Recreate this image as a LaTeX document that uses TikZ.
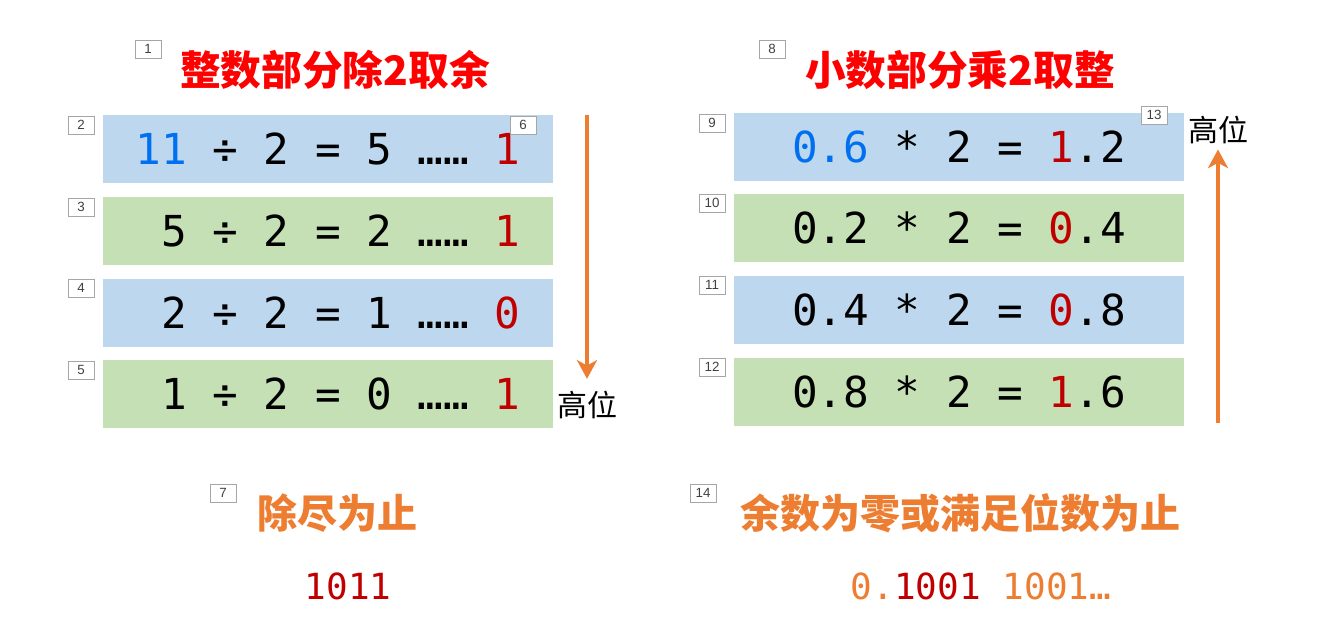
\documentclass[tikz,border=0pt]{standalone}
\usepackage{fontspec}
\usepackage{xcolor}
\usetikzlibrary{arrows.meta,positioning}
\setmainfont{Liberation Sans}
\newfontfamily\codefont{DejaVu Sans Mono}
\newfontfamily\cjkfont{Noto Sans CJK SC}
\newdimen\pix \pix=0.75pt

\definecolor{rowblue}{HTML}{BDD7EE}
\definecolor{rowgreen}{HTML}{C5E0B4}
\definecolor{digitred}{HTML}{C00000}
\definecolor{headred}{HTML}{FF0000}
\definecolor{accent}{HTML}{ED7D31}
\definecolor{startblue}{HTML}{0070F0}
\definecolor{tagline}{HTML}{A6A6A6}
\definecolor{tagtext}{HTML}{404040}

\begin{document}
\begin{tikzpicture}[
  x=0.75pt, y=-0.75pt,
  qrow/.style={minimum width=450\pix, minimum height=68\pix, inner sep=0pt,
    font=\codefont\fontsize{32pt}{36pt}\selectfont},
  tag/.style={draw=tagline, fill=white, minimum width=26\pix, minimum height=18\pix,
    inner sep=0pt, text=tagtext, font=\fontsize{10pt}{11pt}\selectfont},
  heading/.style={text=headred, font=\cjkfont\bfseries\fontsize{30.5pt}{34pt}\selectfont},
  endnote/.style={text=accent, font=\cjkfont\bfseries\fontsize{30pt}{34pt}\selectfont},
  hilabel/.style={inner sep=1pt, font=\cjkfont\fontsize{22.5pt}{26pt}\selectfont},
  result/.style={font=\codefont\fontsize{27pt}{30pt}\selectfont},
  flow/.style={-{Stealth[length=14pt, width=15pt, inset=4pt]}, line width=3pt, draw=accent}
]
\useasboundingbox (0,0) rectangle (1330,635);

% Integer part
\node[heading] (headL) at (335,70) {整数部分除2取余};

\node[qrow, fill=rowblue] (divA) at (328,149)
  {{\color{startblue}11} ÷ 2 = 5 …… {\color{digitred}1}};
\node[qrow, fill=rowgreen] (divB) at (328,231)
  {\hphantom{0}5 ÷ 2 = 2 …… {\color{digitred}1}};
\node[qrow, fill=rowblue] (divC) at (328,313)
  {\hphantom{0}2 ÷ 2 = 1 …… {\color{digitred}0}};
\node[qrow, fill=rowgreen] (divD) at (328,394)
  {\hphantom{0}1 ÷ 2 = 0 …… {\color{digitred}1}};

\node[hilabel] (hiL) at (587,405) {高位};
\coordinate (arrL) at (587,115);
\draw[flow, shorten >=8pt] (arrL) -- (hiL.north);

\node[endnote] (stopL) at (337,513) {除尽为止};
\node[result, text=digitred] (binL) at (348,586) {1011};

% Fraction part
\node[heading] (headR) at (960,70) {小数部分乘2取整};

\node[qrow, fill=rowblue] (mulA) at (959,147)
  {{\color{startblue}0.6} * 2 = {\color{digitred}1}.2};
\node[qrow, fill=rowgreen] (mulB) at (959,228)
  {0.2 * 2 = {\color{digitred}0}.4};
\node[qrow, fill=rowblue] (mulC) at (959,310)
  {0.4 * 2 = {\color{digitred}0}.8};
\node[qrow, fill=rowgreen] (mulD) at (959,392)
  {0.8 * 2 = {\color{digitred}1}.6};

\node[hilabel] (hiR) at (1218,130) {高位};
\coordinate (arrR) at (1218,423);
\draw[flow, shorten >=3pt] (arrR) -- (hiR.south);

\node[endnote] (stopR) at (960,513) {余数为零或满足位数为止};
\node[result, text=accent] (binR) at (981,586)
  {0.{\color{digitred}1001} 1001…};

% Animation tags
\node[tag] (t1) at (148,49) {1};
\node[tag] (t2) at (81,125) {2};
\node[tag] (t3) at (81,207) {3};
\node[tag] (t4) at (81,288) {4};
\node[tag] (t5) at (81,370) {5};
\node[tag] (t6) at (523,125) {6};
\node[tag] (t7) at (223,493) {7};
\node[tag] (t8) at (772,49) {8};
\node[tag] (t9) at (712,123) {9};
\node[tag] (t10) at (712,203) {10};
\node[tag] (t11) at (712,285) {11};
\node[tag] (t12) at (712,367) {12};
\node[tag] (t13) at (1154,115) {13};
\node[tag] (t14) at (703,493) {14};

\end{tikzpicture}
\end{document}
